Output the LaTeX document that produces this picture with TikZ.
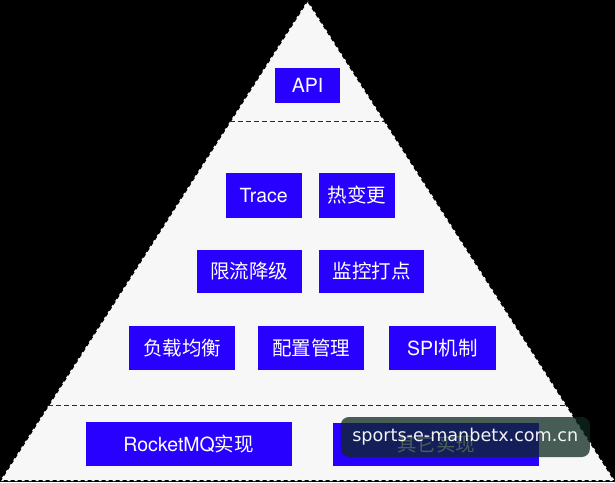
\documentclass[tikz,border=0pt]{standalone}
\usepackage{fontspec}
\setmainfont{TeX Gyre Heros}
\newfontfamily\cjk{Noto Sans CJK SC}
\newfontfamily\wmfont{DejaVu Sans}
\usetikzlibrary{calc}
\definecolor{boxblue}{RGB}{40,0,255}
\definecolor{trifill}{RGB}{248,247,247}
\definecolor{wmfill}{RGB}{14,41,33}
\definecolor{sepgray}{RGB}{40,40,40}
\tikzset{
  bluebox/.style={fill=boxblue, text=white, inner sep=0pt, font=\fontsize{19.5}{22}\selectfont, minimum height=44pt},
  sepline/.style={draw=sepgray, line width=1.2pt, dash pattern=on 5pt off 3pt},
  triedge/.style={draw=black, line width=1.6pt, dash pattern=on 4pt off 3pt, fill=trifill},
  wmbox/.style={fill=wmfill, fill opacity=0.75, text opacity=0.95, text=white, rounded corners=8pt, minimum width=249pt, minimum height=40pt, inner sep=0pt, font=\wmfont\fontsize{17.6}{20}\selectfont}
}
\begin{document}
\begin{tikzpicture}[x=1pt,y=-1pt]
\fill[black] (0,0) rectangle (615,482);
\useasboundingbox (0,0) rectangle (615,482);
\coordinate (A) at (307.5,0.5);
\coordinate (BL) at (0,481);
\coordinate (BR) at (615,481);
\path[triedge] (A) -- (BL) -- (BR) -- cycle;
\coordinate (S1L) at ($(A)!0.2516!(BL)$);
\coordinate (S1R) at ($(A)!0.2516!(BR)$);
\coordinate (S2L) at ($(A)!0.8435!(BL)$);
\coordinate (S2R) at ($(A)!0.8435!(BR)$);
\draw[sepline] (S1L) -- (S1R);
\draw[sepline] (S2L) -- (S2R);
\node[bluebox, minimum width=65.5pt, minimum height=35pt] (api) at (307.5,85.5) {API};
\node[bluebox, minimum width=76pt, minimum height=45pt] (trace) at (263.7,195.5) {Trace};
\node[bluebox, minimum width=76pt, minimum height=45pt] (hot) at (357,195.5) {\cjk 热变更};
\node[bluebox, minimum width=105pt, minimum height=43pt] (limit) at (249.2,271.5) {\cjk 限流降级};
\node[bluebox, minimum width=105pt, minimum height=43pt] (monitor) at (371.5,271.5) {\cjk 监控打点};
\node[bluebox, minimum width=105.7pt] (lb) at (182.2,348) {\cjk 负载均衡};
\node[bluebox, minimum width=106pt] (conf) at (311,348) {\cjk 配置管理};
\node[bluebox, minimum width=106.7pt] (spi) at (442.3,348) {SPI{\cjk 机制}};
\node[bluebox, minimum width=206pt] (rmq) at (188.7,444) {RocketMQ{\cjk 实现}};
\node[bluebox, minimum width=206pt, minimum height=43.3pt] (other) at (436,444.3) {\cjk 其它实现};
\node[wmbox] (wm) at (465.3,437) {sports-e-manbetx.com.cn};
\end{tikzpicture}
\end{document}
